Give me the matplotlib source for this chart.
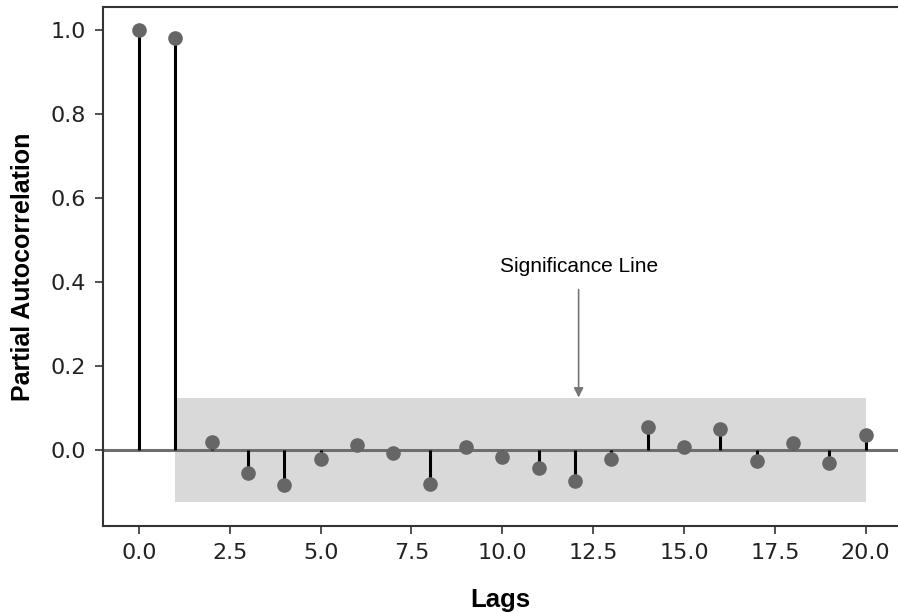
import matplotlib
matplotlib.use("Agg")
import matplotlib.pyplot as plt
import numpy as np

lags = list(range(21))
pacf_values = [1.0, 0.982, 0.020, -0.055, -0.083, -0.022, 0.012, -0.006, -0.081, 0.006,
               -0.016, -0.042, -0.075, -0.022, 0.054, 0.006, 0.050, -0.026, 0.016, -0.032, 0.036]
conf_level = 0.123
xticks = [0.0, 2.5, 5.0, 7.5, 10.0, 12.5, 15.0, 17.5, 20.0]
yticks = [0.0, 0.2, 0.4, 0.6, 0.8, 1.0]

fig = plt.figure(figsize=(8.98, 6.12), dpi=100)
ax = fig.add_axes([103/898, 86/612, 1.0 - 103/898, (526-7)/612])

lag_arr = np.array(lags, dtype=float)
vals = np.array(pacf_values)

# confidence band from lag 1 onwards
ax.fill_between(lag_arr[1:], -conf_level, conf_level, color="#d9d9d9", lw=0, zorder=1)
ax.axhline(0, color="#6e6e6e", lw=2.2, zorder=2)
ax.vlines(lag_arr, 0, vals, color="black", lw=2.2, zorder=3)
ax.plot(lag_arr, vals, "o", color="#666666", markersize=9.5, zorder=4)

ax.set_xlim(-0.99, 20.89)
ax.set_ylim(-0.181, 1.055)
ax.set_xticks(xticks)
ax.set_xticklabels([f"{t:.1f}" for t in xticks])
ax.set_yticks(yticks)
ax.set_yticklabels([f"{t:.1f}" for t in yticks])
ax.tick_params(labelsize=16, length=5.5, width=1.2, pad=7, color="#333333", labelcolor="#222222")
for s in ax.spines.values():
    s.set_linewidth(1.5)
    s.set_color("#333333")
ax.spines["right"].set_visible(False)

ax.set_xlabel("Lags", fontsize=18.5, fontweight="bold", family="Liberation Sans", labelpad=18)
ax.set_ylabel("Partial Autocorrelation", fontsize=18, fontweight="bold", family="Liberation Sans", labelpad=11)

ax.annotate("Significance Line", xy=(12.1, conf_level + 0.002), xytext=(12.1, 0.415),
            ha="center", va="bottom", fontsize=15, family="Liberation Sans",
            arrowprops=dict(arrowstyle="-|>", color="#777777", lw=1.2, mutation_scale=14,
                            shrinkA=8, shrinkB=0))

fig.savefig("out.png", dpi=100)
